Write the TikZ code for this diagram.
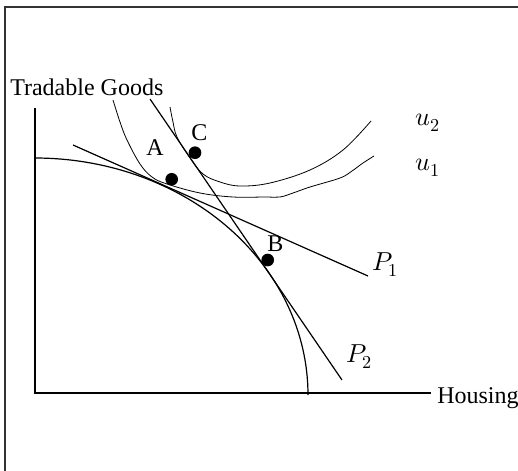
\documentclass[tikz,border=0pt]{standalone}
\usepackage{fontspec}
\usepackage{unicode-math}
\setmainfont{Liberation Serif}
\setmathfont{Latin Modern Math}
\begin{document}
\begin{tikzpicture}[x=0.75pt,y=-0.75pt,
  lbl/.style={font=\fontsize{18}{20}\selectfont,inner sep=0pt},
  mlbl/.style={font=\fontsize{19.5}{22}\selectfont,inner sep=0pt},
  dot/.style={circle,fill=black,inner sep=0pt,minimum size=9.5pt},
  axis/.style={line width=1pt},
  pline/.style={line width=0.9pt},
  ucurve/.style={line width=0.6pt},
  frame/.style={line width=1.4pt,draw=black!80}]
\useasboundingbox (0,0) rectangle (518,471);
% frame
\draw[frame] (518,7) -- (5,7) -- (5,471);
% axes
\coordinate (O) at (35,393);
\coordinate (ytop) at (35,108);
\coordinate (xend) at (431,393);
\draw[axis] (ytop) -- (O) -- (xend);
\node[lbl,anchor=base west] (ylab) at (10,95) {Tradable Goods};
\node[lbl,anchor=base west] (xlab) at (437,403) {Housing};
% production possibility frontier
\draw[pline] plot[domain=0:90,samples=80,smooth] ({35+273*cos(\x)},{395-237*sin(\x)});
% price lines
\coordinate (p1a) at (73,145);
\coordinate (p1b) at (368,276);
\draw[pline] (p1a) -- (p1b);
\coordinate (p2a) at (150,99);
\coordinate (p2b) at (342,380);
\draw[pline] (p2a) -- (p2b);
\node[mlbl,anchor=base west] (P1) at (372,270) {$P_1$};
\node[mlbl,anchor=base west] (P2) at (346,362) {$P_2$};
% indifference curves
\draw[ucurve] plot[smooth,tension=0.6] coordinates {(113,100) (120,122) (127,140) (140,164) (152,177) (167,184) (200,193) (233,197) (265,197) (280,197) (293,193) (310,187) (340,178) (352,171) (363,163) (374,156)};
\draw[ucurve] plot[smooth,tension=0.6] coordinates {(170,107) (173,122) (177,137) (190,158) (203,174) (220,182) (240,186) (270,183) (310,170) (343,150) (371,121)};
\node[mlbl,anchor=base west] (u2) at (415,125) {$u_2$};
\node[mlbl,anchor=base west] (u1) at (415,170) {$u_1$};
% points
\node[dot] (A) at (171.7,179.3) {};
\node[dot] (C) at (195,152.7) {};
\node[dot] (B) at (267.7,260) {};
\node[lbl,anchor=base] (Alab) at (155,155) {A};
\node[lbl,anchor=base] (Clab) at (199.5,140) {C};
\node[lbl,anchor=base] (Blab) at (275.5,251) {B};
\end{tikzpicture}
\end{document}
